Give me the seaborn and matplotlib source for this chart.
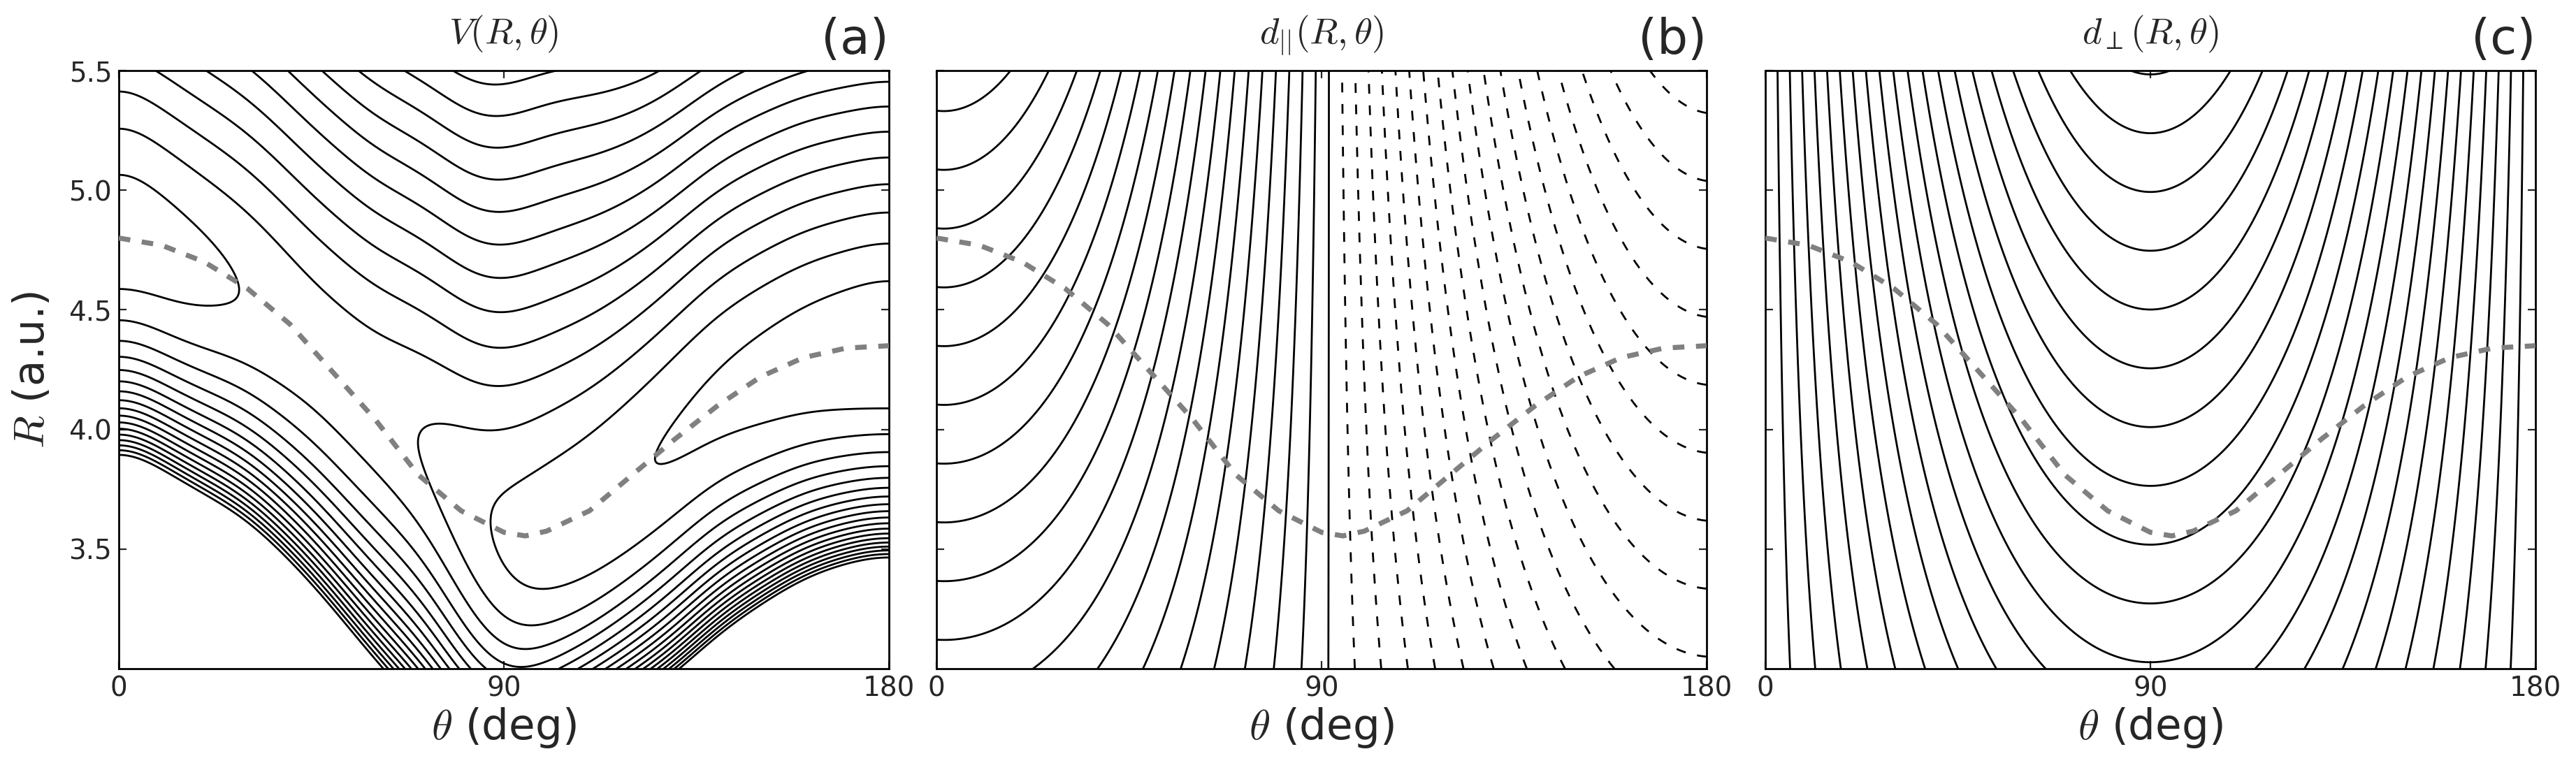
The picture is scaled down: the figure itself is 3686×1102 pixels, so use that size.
import numpy as np
import matplotlib
matplotlib.use("Agg")
import matplotlib.pyplot as plt
import seaborn as sns

# grey dashed path (theta in deg, R in a.u.)
path_theta = [0, 10, 20, 30, 40, 50, 60, 70, 80, 90, 95, 100, 110, 120, 130, 140, 150, 160, 170, 180]
path_R = [4.80, 4.77, 4.70, 4.59, 4.44, 4.24, 4.04, 3.81, 3.66, 3.57, 3.555, 3.575, 3.66, 3.81, 3.96,
          4.10, 4.22, 4.30, 4.34, 4.35]

# panel (a): valley of V along theta (position, and floor in units of contour levels)
valley_theta = [0, 15, 30, 45, 60, 72, 82, 90, 98, 110, 124.5, 140, 160, 180]
valley_R = [4.86, 4.70, 4.58, 4.35, 4.09, 3.94, 3.67, 3.53, 3.55, 3.65, 3.86, 4.12, 4.29, 4.35]
valley_E = [1.34, 1.63, 2.06, 2.41, 2.33, 1.98, 1.33, 0.75, 0.44, 0.23, 0.01, -0.21, -0.55, -0.91]
# wall stiffness, well depth and outer slope of V
shape_theta = [0, 45, 75, 100, 130, 180]
shape_a = [1.14, 1.23, 1.35, 2.17, 1.57, 1.77]
shape_D = [4.15, 2.00, 0.42, 0.47, 0.83, 1.17]
shape_gamma = [5.28, 6.13, 7.04, 6.20, 8.08, 8.88]
SOFT_W = 0.6
pot_levels = np.arange(0, 19)

# panels (b), (c): dipole components
DELTA = 0.2457
par_c_left, par_c_right, par_right_scale, par_tilt = 0.91, 0.21, 0.865, 0.03
par_levels = DELTA * np.arange(-18, 19)
perp_c = 0.57
perp_levels = DELTA * np.arange(1, 21)

x_ticks = [0, 90, 180]
y_ticks = [3.5, 4.0, 4.5, 5.0, 5.5]
titles = [r"$V(R,\theta)$", r"$d_{||}(R,\theta)$", r"$d_\perp(R,\theta)$"]
tags = ["(a)", "(b)", "(c)"]


def smooth_curve(nodes, vals, grid, width):
    base = np.interp(grid, nodes, vals)
    step = grid[1] - grid[0]
    half = int(3 * width / step)
    padded = np.concatenate([base[half:0:-1], base, base[-2:-half - 2:-1]])
    k = np.exp(-0.5 * (np.arange(-half, half + 1) * step / width) ** 2)
    return np.convolve(padded, k / k.sum(), mode="valid")


theta = np.linspace(0, 180, 721)
R = np.linspace(3.0, 5.5, 501)
TH, RR = np.meshgrid(theta, R)
t = np.radians(TH)

# potential: Morse-like well around the valley, softened outer slope
Rv = smooth_curve(valley_theta, valley_R, theta, 6.0)
Ev = smooth_curve(valley_theta, valley_E, theta, 5.0)
av = smooth_curve(shape_theta, shape_a, theta, 10.0)
Dv = smooth_curve(shape_theta, shape_D, theta, 10.0)
gv = smooth_curve(shape_theta, shape_gamma, theta, 10.0)
x = RR - Rv[None, :]
V = (Ev[None, :] + Dv[None, :] * (1 - np.exp(-av[None, :] * x)) ** 2
     + 2 * gv[None, :] * SOFT_W ** 2 * (np.sqrt(1 + (x / SOFT_W) ** 2) - 1))

# parallel component
gL = RR - par_c_left
gR = par_right_scale * (RR - par_c_right)
c = np.cos(t)
d_par = c * (gL * (1 + c) / 2 + gR * (1 - c) / 2) + par_tilt * np.sin(t) * gL

# perpendicular component
d_perp = (RR - perp_c) * np.sin(t)

sns.set_style("ticks", {"xtick.direction": "in", "ytick.direction": "in"})
plt.rcParams["font.family"] = ["DejaVu Sans"]
plt.rcParams["mathtext.fontset"] = "cm"
plt.rcParams["lines.dashed_pattern"] = [5.0, 6.0]

fig = plt.figure(figsize=(18.43, 5.51), dpi=200)
bottom, height = 1 - 957 / 1102, 856 / 1102
lefts = [170 / 3686, 1340 / 3686, 2526 / 3686]
width = 1102 / 3686

fields = [(V, pot_levels), (d_par, par_levels), (d_perp, perp_levels)]
for i, (field, levels) in enumerate(fields):
    ax = fig.add_axes([lefts[i], bottom, width, height])
    styles = ["--" if lv < -1e-9 else "-" for lv in levels]
    ax.contour(TH, RR, field, levels=levels, colors="k", linewidths=1.0, linestyles=styles)
    sns.lineplot(x=path_theta, y=path_R, ax=ax, color="0.5", lw=2.6, estimator=None,
                 sort=False, linestyle=(0, (2.3, 2.3)), zorder=5)
    ax.set_xlim(0, 180)
    ax.set_ylim(3.0, 5.5)
    ax.set_xticks(x_ticks)
    ax.set_yticks(y_ticks)
    ax.tick_params(direction="in", length=4, width=0.8, top=True, right=True, labelsize=14)
    for sp in ax.spines.values():
        sp.set_linewidth(1.0)
        sp.set_color("k")
    ax.set_xlabel(r"$\theta$ (deg)", fontsize=22, labelpad=2)
    if i == 0:
        ax.set_ylabel(r"$R$ (a.u.)", fontsize=22, labelpad=8)
    else:
        ax.set_yticklabels([])
        ax.set_ylabel("")
    ax.set_title(titles[i], fontsize=19, pad=14)
    ax.text(1.0, 1.012, tags[i], transform=ax.transAxes, ha="right", va="bottom", fontsize=25)

fig.savefig("out.png", dpi=200)
